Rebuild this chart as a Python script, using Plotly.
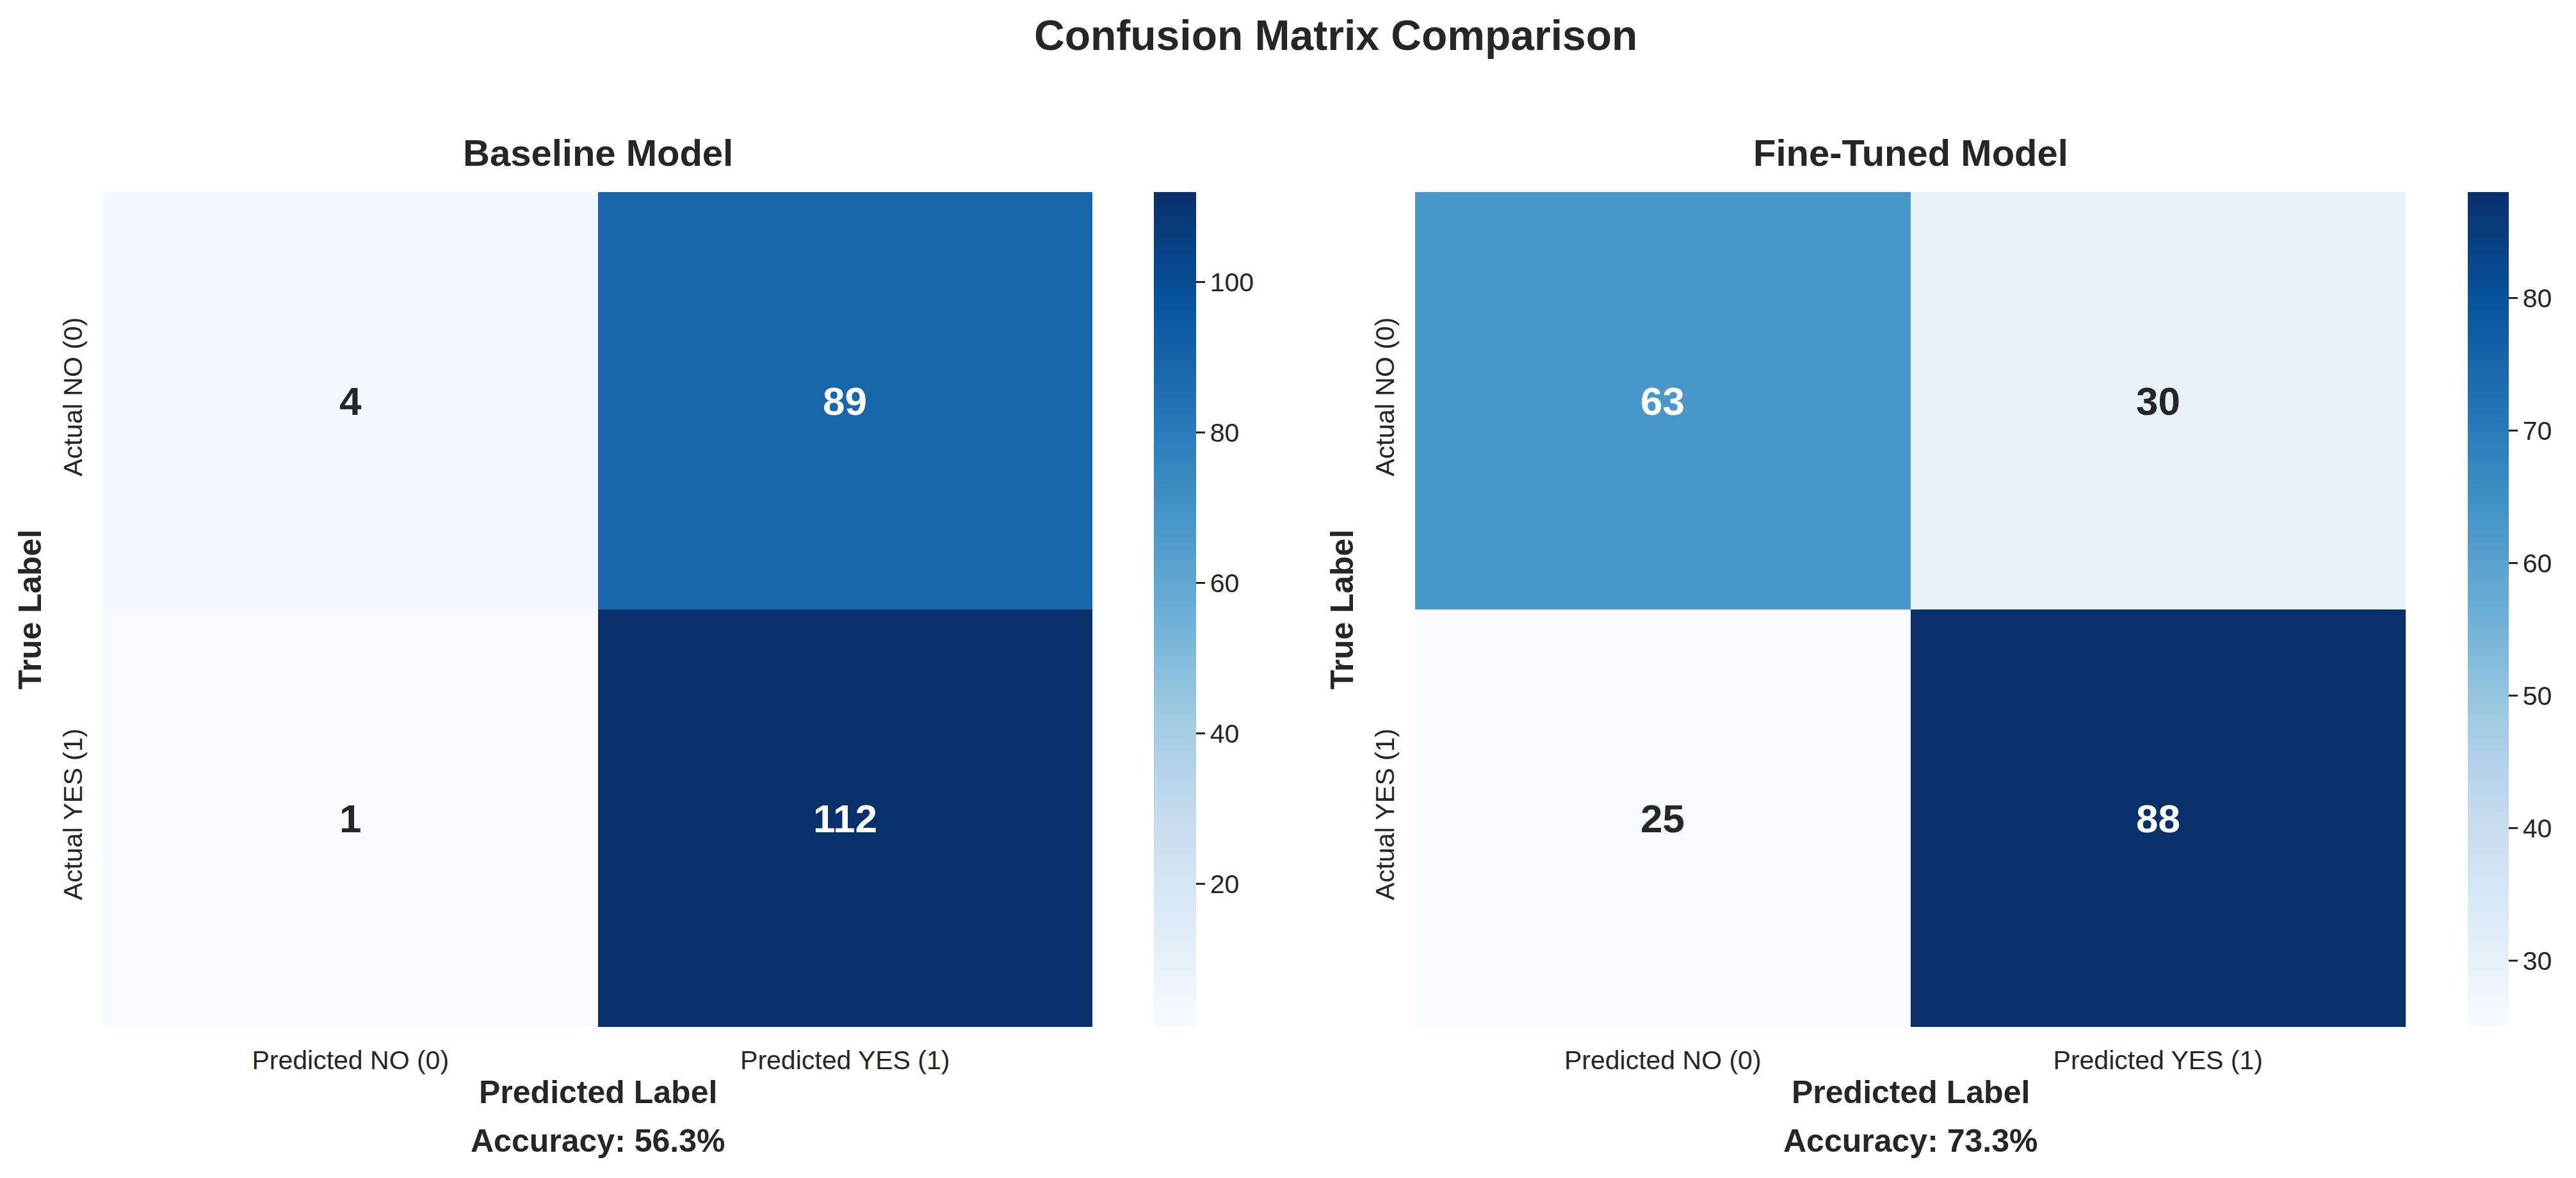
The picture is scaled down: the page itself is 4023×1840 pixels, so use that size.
import plotly.graph_objects as go
from plotly.colors import sample_colorscale, sequential, unlabel_rgb

# Confusion matrices (rows = actual, cols = predicted)
pred_labels = ["Predicted NO (0)", "Predicted YES (1)"]
true_labels = ["Actual NO (0)", "Actual YES (1)"]
model_names = ["Baseline Model", "Fine-Tuned Model"]
baseline_cm = [[4, 89], [1, 112]]
finetuned_cm = [[63, 30], [25, 88]]
cb_dticks = [20, 10]

# the page body keeps its default 8px margin, so the figure is shrunk by that much
PAGE_MARGIN = 8
W, H = 4023 - PAGE_MARGIN, 1840 - PAGE_MARGIN
FONT = "Liberation Sans, Arial, Helvetica, sans-serif"
DARK = "#262626"
BLUES = sequential.Blues


def px(x):
    return (x - PAGE_MARGIN) / W


def py(y):
    return 1 - (y - PAGE_MARGIN) / H


def text_color(value, vmin, vmax):
    """Seaborn-style contrast choice based on relative luminance of the cell."""
    t = (value - vmin) / (vmax - vmin) if vmax > vmin else 0
    r, g, b = unlabel_rgb(sample_colorscale(BLUES, [t])[0])
    chans = []
    for c in (r / 255, g / 255, b / 255):
        chans.append(c / 12.92 if c <= 0.03928 else ((c + 0.055) / 1.055) ** 2.4)
    lum = 0.2126 * chans[0] + 0.7152 * chans[1] + 0.0722 * chans[2]
    return DARK if lum > 0.408 else "white"


# pixel geometry of each panel: (heatmap left, heatmap right, colorbar left, colorbar width)
panels = [(161, 1706, 1802, 66), (2210, 3757, 3854, 64)]
top, bottom = 300, 1604

fig = go.Figure()
annotations = []

for i, (name, cm) in enumerate(zip(model_names, [baseline_cm, finetuned_cm])):
    x0, x1, cbx, cbw = panels[i]
    flat = [v for row in cm for v in row]
    vmin, vmax = min(flat), max(flat)
    xa = "x" if i == 0 else f"x{i + 1}"
    ya = "y" if i == 0 else f"y{i + 1}"
    fig.add_trace(
        go.Heatmap(
            z=cm,
            x=pred_labels,
            y=true_labels,
            xaxis=xa,
            yaxis=ya,
            colorscale=BLUES,
            zmin=vmin,
            zmax=vmax,
            colorbar=dict(
                x=px(cbx),
                xanchor="left",
                y=py((top + bottom) / 2),
                yanchor="middle",
                lenmode="pixels",
                len=bottom - top,
                thicknessmode="pixels",
                thickness=cbw,
                outlinewidth=0,
                xpad=0,
                ypad=0,
                ticks="outside",
                ticklen=14,
                tickwidth=3,
                tickcolor=DARK,
                tick0=0,
                dtick=cb_dticks[i],
                tickfont=dict(family=FONT, size=41, color=DARK),
            ),
        )
    )

    for r, tl in enumerate(true_labels):
        for c, pl in enumerate(pred_labels):
            annotations.append(
                dict(
                    x=pl,
                    y=tl,
                    xref=xa,
                    yref=ya,
                    text=f"<b>{cm[r][c]}</b>",
                    showarrow=False,
                    font=dict(family=FONT, size=62, color=text_color(cm[r][c], vmin, vmax)),
                )
            )

    acc = (cm[0][0] + cm[1][1]) / sum(flat)
    cx = (x0 + x1) / 2
    annotations += [
        dict(x=px(cx), y=py(239), text=f"<b>{name}</b>", font=dict(size=58)),
        dict(x=px(cx), y=py(1706), text="<b>Predicted Label</b>", font=dict(size=50)),
        dict(x=px(cx), y=py(1782), text=f"<b>Accuracy: {acc:.1%}</b>", font=dict(size=50)),
        dict(
            x=px(x0 - 114),
            y=py((top + bottom) / 2),
            text="<b>True Label</b>",
            textangle=-90,
            font=dict(size=50),
        ),
    ]

    axis_common = dict(
        showgrid=False,
        zeroline=False,
        showline=False,
        ticks="outside",
        ticklen=16,
        tickcolor="rgba(0,0,0,0)",
        tickfont=dict(family=FONT, size=41, color=DARK),
    )
    fig.layout[f"xaxis{'' if i == 0 else i + 1}"] = dict(
        domain=[px(x0), px(x1)], anchor=ya, **axis_common
    )
    fig.layout[f"yaxis{'' if i == 0 else i + 1}"] = dict(
        domain=[py(bottom), py(top)],
        anchor=xa,
        autorange="reversed",
        tickangle=-90,
        **axis_common,
    )

for a in annotations:
    if "xref" not in a:
        a.update(xref="paper", yref="paper", showarrow=False)
        a["font"].update(family=FONT, color=DARK)
    a.setdefault("xanchor", "center")
    a.setdefault("yanchor", "middle")

annotations.append(
    dict(
        x=px(2086),
        y=py(55),
        xref="paper",
        yref="paper",
        text="<b>Confusion Matrix Comparison</b>",
        showarrow=False,
        xanchor="center",
        yanchor="middle",
        font=dict(family=FONT, size=66, color=DARK),
    )
)

fig.update_layout(
    width=W,
    height=H,
    margin=dict(l=0, r=0, t=0, b=0),
    paper_bgcolor="white",
    plot_bgcolor="white",
    annotations=annotations,
    font=dict(family=FONT, color=DARK),
)

fig.write_html("out.html")
